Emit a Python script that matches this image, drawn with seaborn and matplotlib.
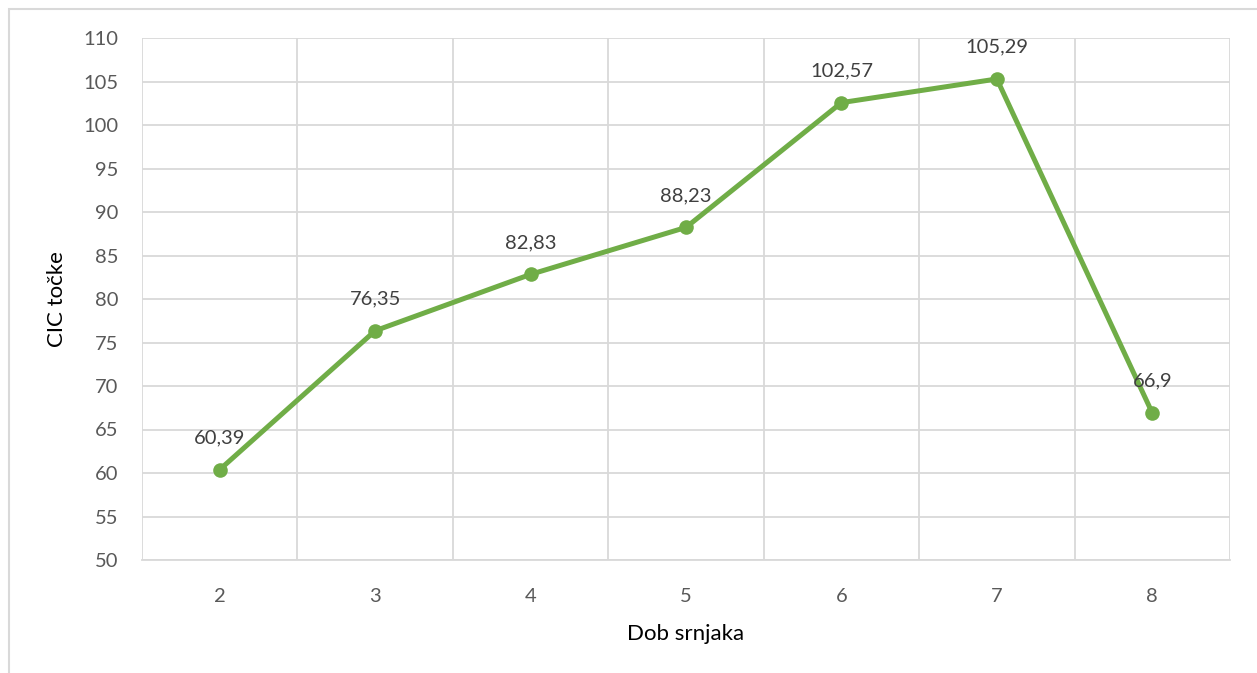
import matplotlib
matplotlib.use("Agg")
import matplotlib.pyplot as plt
import seaborn as sns
import pandas as pd
from matplotlib.patches import Rectangle

# data
age = [2, 3, 4, 5, 6, 7, 8]
cic = [60.39, 76.35, 82.83, 88.23, 102.57, 105.29, 66.9]
value_labels = ["60,39", "76,35", "82,83", "88,23", "102,57", "105,29", "66,9"]

df = pd.DataFrame({"Dob srnjaka": age, "CIC točke": cic})

sns.set_theme(style="white")
plt.rcParams["font.family"] = ["Lato", "DejaVu Sans"]

fig = plt.figure(figsize=(12.57, 6.73), dpi=100)
ax = fig.add_axes([142 / 1257, 1 - 560 / 673, (1230 - 142) / 1257, (560 - 38) / 673])

grid_col = "#D9D9D9"
text_col = "#595959"
green = "#70AD47"

sns.lineplot(data=df, x="Dob srnjaka", y="CIC točke", ax=ax, color=green,
             linewidth=3.6, marker="o", markersize=10.5, markeredgewidth=0, zorder=3)

for x, y, lab in zip(age, cic, value_labels):
    ax.annotate(lab, (x, y), xytext=(0, 23), textcoords="offset points",
                ha="center", va="center", fontsize=14.5, color="#404040")

ax.set_xlim(1.5, 8.5)
ax.set_ylim(50, 110)
ax.set_xticks(age)
ax.set_xticks([a + 0.5 for a in [1] + age], minor=True)
ax.set_yticks(range(50, 111, 5))
ax.grid(True, axis="y", which="major", color=grid_col, linewidth=1.3)
ax.grid(True, axis="x", which="minor", color=grid_col, linewidth=1.3)
ax.tick_params(axis="both", which="both", length=0, labelsize=14.5, colors=text_col)
ax.tick_params(axis="x", pad=20)
ax.tick_params(axis="y", pad=17)
for s in ax.spines.values():
    s.set_visible(False)
ax.spines["bottom"].set_visible(True)
ax.spines["bottom"].set_color(grid_col)
ax.spines["bottom"].set_linewidth(1.3)

ax.set_xlabel("Dob srnjaka", fontsize=16, color="black", labelpad=14)
ax.set_ylabel("CIC točke", fontsize=16, color="black", labelpad=12)

# outer chart frame
fig.patches.append(Rectangle((9 / 1257, -0.05), 1.1, 1 - 9 / 673 + 0.05,
                             transform=fig.transFigure, fill=False,
                             edgecolor=grid_col, linewidth=1.5))

fig.savefig("out.png", dpi=100)
